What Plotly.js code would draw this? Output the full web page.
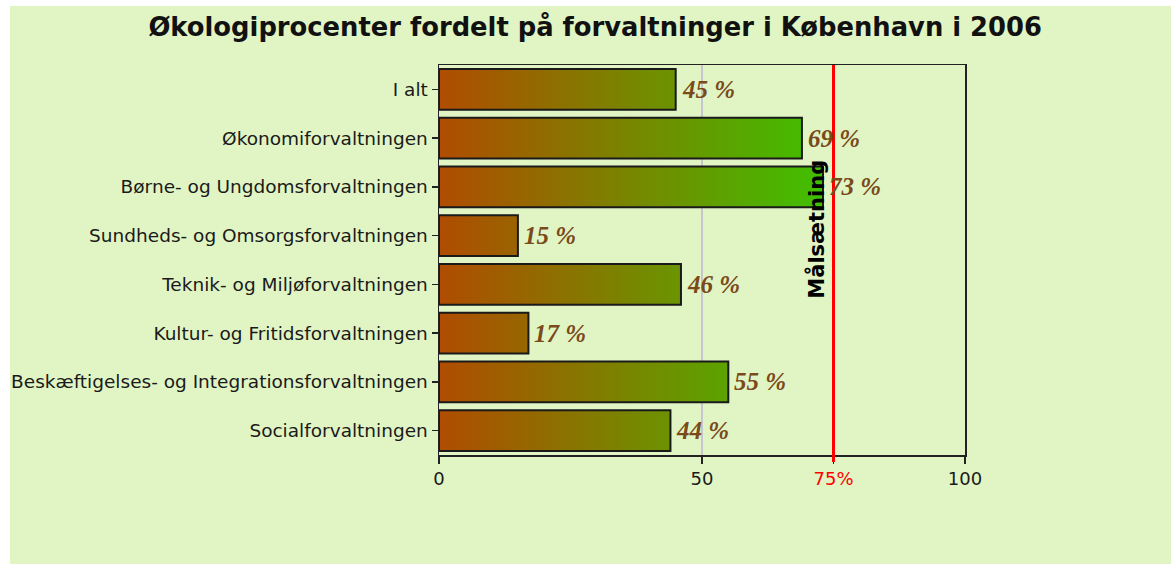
<!DOCTYPE html>
<html>
<head>
<meta charset="utf-8">
<script src="https://cdn.plot.ly/plotly-3.0.1.min.js"></script>
<style>
  html, body { margin: 0; padding: 0; background: #ffffff; }
  #chart { position: absolute; left: 10px; top: 6px; width: 1161px; height: 558px; }
</style>
</head>
<body>
<div id="chart"></div>
<script>
// ---- Data ----
const categories = [
  "I alt",
  "Økonomiforvaltningen",
  "Børne- og Ungdomsforvaltningen",
  "Sundheds- og Omsorgsforvaltningen",
  "Teknik- og Miljøforvaltningen",
  "Kultur- og Fritidsforvaltningen",
  "Beskæftigelses- og Integrationsforvaltningen",
  "Socialforvaltningen"
];
const values = [45, 69, 73, 15, 46, 17, 55, 44];
const target = 75;
const targetLabel = "Målsætning";
const xTickVals = [0, 50, 75, 100];
const xTickText = ["0", "50", "75%", "100"];
const titleText = "Økologiprocenter fordelt på forvaltninger i København i 2006";

// ---- Build traces ----
const half = 0.42;
const traces = [];
values.forEach((v, i) => {
  traces.push({
    type: "scatter",
    mode: "lines",
    x: [0, v, v, 0, 0],
    y: [i - half, i - half, i + half, i + half, i - half],
    fill: "toself",
    fillgradient: {
      type: "horizontal",
      start: 0,
      stop: 73,
      colorscale: [[0, "#b04c00"], [1, "#40c000"]]
    },
    line: { color: "#1a1a1a", width: 2 },
    showlegend: false,
    hoverinfo: "skip"
  });
});

const annotations = values.map((v, i) => ({
  x: v, y: i, xref: "x", yref: "y",
  text: v + " %",
  showarrow: false,
  xanchor: "left", yanchor: "middle",
  xshift: 4,
  font: { family: "Liberation Serif", size: 25, weight: "bold", style: "italic", color: "#7a4a1a" }
}));
annotations.push({
  x: target, xref: "x", y: 0.579, yref: "paper",
  text: targetLabel,
  textangle: -90,
  showarrow: false,
  xanchor: "center", yanchor: "middle",
  xshift: -17,
  font: { family: "DejaVu Sans", size: 21, weight: "bold", color: "#000000" }
});

const tickText = xTickText.map((t, k) => xTickVals[k] === target ? '<span style="color:#ff0000">' + t + '</span>' : t);

const layout = {
  width: 1161, height: 558,
  paper_bgcolor: "#e1f5c4",
  plot_bgcolor: "#e1f5c4",
  margin: { l: 429, r: 206, t: 59, b: 109, pad: 0 },
  title: {
    text: titleText,
    x: 0.504, xref: "container", xanchor: "center",
    y: 0.962, yref: "container", yanchor: "middle",
    font: { family: "DejaVu Sans", size: 25.8, weight: "bold", color: "#111111" }
  },
  xaxis: {
    range: [0, 100],
    tickmode: "array", tickvals: xTickVals, ticktext: tickText,
    ticks: "outside", ticklen: 7, tickcolor: "#222222", tickwidth: 1.5,
    showgrid: true, gridcolor: "#c6c6d0", gridwidth: 1.5,
    zeroline: false,
    showline: true, mirror: true, linecolor: "#222222", linewidth: 1.5,
    tickfont: { family: "DejaVu Sans", size: 18, color: "#1a1a1a" },
    fixedrange: true
  },
  yaxis: {
    range: [7.5, -0.5],
    tickmode: "array", tickvals: categories.map((c, i) => i), ticktext: categories,
    ticks: "outside", ticklen: 6, tickcolor: "#222222", tickwidth: 1.5,
    showgrid: false, zeroline: false,
    showline: true, mirror: true, linecolor: "#222222", linewidth: 1.5,
    tickfont: { family: "DejaVu Sans", size: 18.5, color: "#1a1a1a" },
    fixedrange: true
  },
  shapes: [{
    type: "line", xref: "x", yref: "paper",
    x0: target, x1: target, y0: -0.018, y1: 1,
    line: { color: "#ff0000", width: 3 },
    layer: "above"
  }],
  annotations: annotations,
  showlegend: false
};

Plotly.newPlot("chart", traces, layout, { displayModeBar: false, staticPlot: true });
</script>
</body>
</html>
